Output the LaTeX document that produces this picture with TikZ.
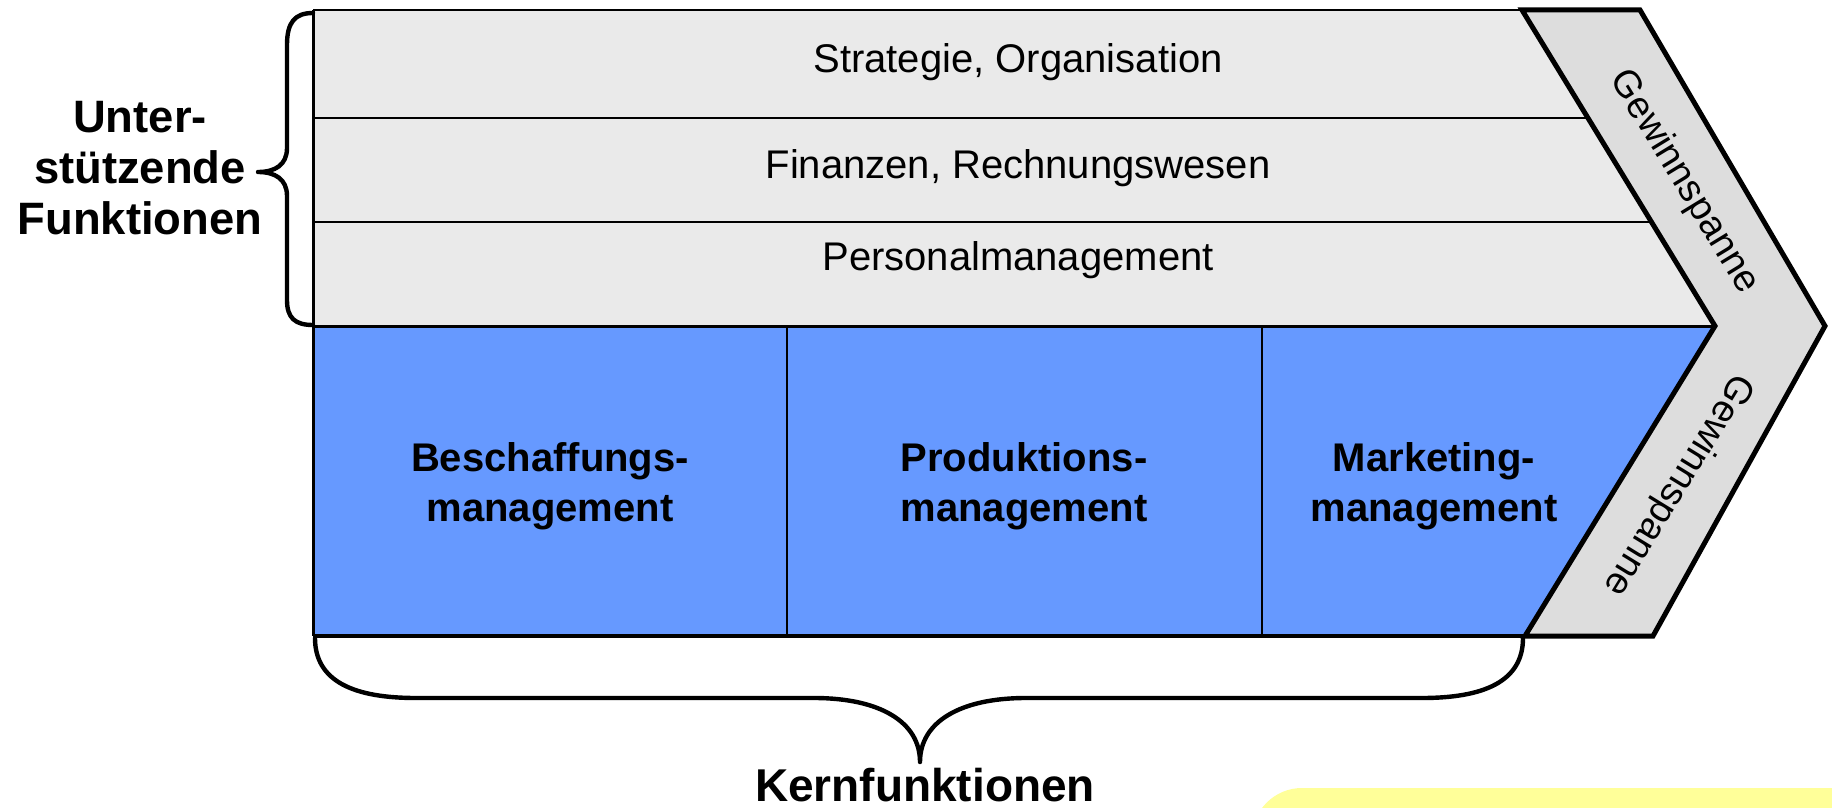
\documentclass[tikz,border=0pt]{standalone}
\usepackage{fontspec}
\setmainfont{Liberation Sans}
\usetikzlibrary{calc}

\begin{document}
\begin{tikzpicture}[x=0.5pt,y=-0.5pt,
  rowtext/.style={anchor=base,font=\fontsize{20}{24}\selectfont},
  coretext/.style={align=center,font=\fontsize{20}{25}\selectfont\bfseries},
  margintext/.style={font=\fontsize{19}{22}\selectfont},
  bracetext/.style={align=center,font=\fontsize{22.7}{25.5}\selectfont\bfseries},
  brace/.style={line width=2.2pt,line cap=round,line join=round}]
\definecolor{supportgray}{HTML}{EAEAEA}
\definecolor{margingray}{HTML}{DDDDDD}
\definecolor{coreblue}{HTML}{6699FF}
\definecolor{noteyellow}{HTML}{FFFF99}
\useasboundingbox (0,0) rectangle (1832,808);
\coordinate (ctop) at (1522,10);
\coordinate (ctip) at (1715,326);
\coordinate (cbot) at (1525,636);
% yellow note, cut by the page edge
\begin{scope}
  \clip (0,0) rectangle (1832,808);
  \fill[noteyellow,rounded corners=25pt] (1252,788) rectangle (1900,900);
\end{scope}
% support rows and core functions
\fill[supportgray] (313,10) -- (ctop) -- (ctip) -- (313,326) -- cycle;
\fill[coreblue] (313,326) -- (ctip) -- (cbot) -- (313,636) -- cycle;
\draw[line width=1pt] (313,10) -- (ctop);
\foreach \y in {118,222}
  \draw[line width=0.8pt] (313,\y) -- ($(ctop)!{(\y-10)/316}!(ctip)$);
\draw[line width=1.5pt] (313,326) -- (ctip);
\foreach \x in {787,1262}
  \draw[line width=0.8pt] (\x,326) -- (\x,636);
\draw[line width=1.5pt] (313,10) -- (313,636);
\draw[line width=2pt] (313,636) -- (cbot);
% Gewinnspanne chevron
\draw[fill=margingray,line width=2.5pt,line join=miter]
  (ctop) -- (1640,10) -- (1825,326) -- (1653,636) -- (cbot) -- (ctip) -- cycle;
\foreach \txt/\y [count=\i] in {{Strategie, Organisation}/73,{Finanzen, Rechnungswesen}/178,{Personalmanagement}/270}
  {\node[rowtext] (row\i) at (1018,\y) {\txt};}
\foreach \txt/\x [count=\i] in {Beschaffungs-/550,Produktions-/1024,Marketing-/1434}
  {\node[coretext] (core\i) at (\x,486) {\txt\\management};}
\node[margintext,rotate=-58.6] (margin1) at (1684,182) {Gewinnspanne};
\node[margintext,rotate=-121.5] (margin2) at (1678,485) {Gewinnspanne};
% braces
\draw[brace] (313,13) .. controls (295,13) and (287,22) .. (287,45) -- (287,148)
  .. controls (287,165) and (275,172) .. (258,172)
  .. controls (275,172) and (287,179) .. (287,196) -- (287,300)
  .. controls (287,318) and (295,325) .. (313,325);
\node[bracetext] (support) at (140,168) {Unter-\\stützende\\Funktionen};
\draw[brace] (315,638) .. controls (315,682) and (355,698) .. (416,698) -- (814,698)
  .. controls (880,698) and (920,722) .. (920,762)
  .. controls (920,722) and (960,698) .. (1026,698) -- (1422,698)
  .. controls (1483,698) and (1523,682) .. (1523,638);
\node[anchor=base,font=\fontsize{23}{26}\selectfont\bfseries] (core) at (925,801) {Kernfunktionen};
\end{tikzpicture}
\end{document}
